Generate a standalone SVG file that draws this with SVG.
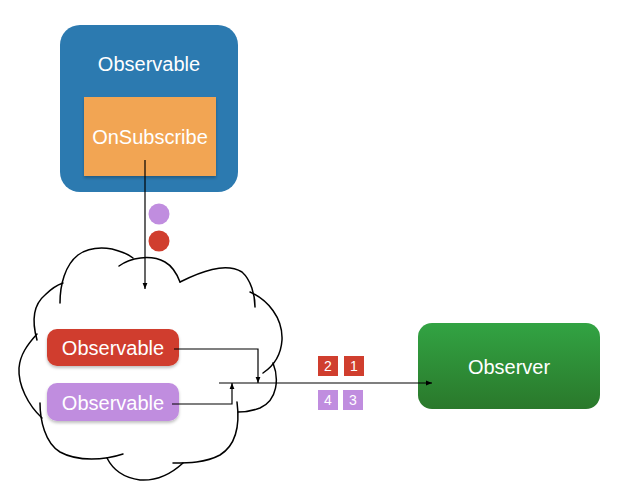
<svg xmlns="http://www.w3.org/2000/svg" width="628" height="502" viewBox="0 0 628 502">
<style>
.t{font-family:"Liberation Sans",Arial,sans-serif;fill:#ffffff;text-anchor:middle}
.big{font-size:20px}
.sm{font-size:14px}
.cl{fill:none;stroke:#000;stroke-width:1.5;stroke-linecap:round}
.ln{fill:none;stroke:#000;stroke-width:1.2}
</style>
<defs>
<marker id="ah" viewBox="0 0 10 10" refX="10" refY="5" markerWidth="6" markerHeight="6" orient="auto" markerUnits="userSpaceOnUse">
<path d="M0,1 L10,5 L0,9 z" fill="#000"/>
</marker>
<linearGradient id="gg" x1="0" y1="0" x2="0" y2="1">
<stop offset="0" stop-color="#32a343"/>
<stop offset="1" stop-color="#2a782b"/>
</linearGradient>
<filter id="sh" x="-10%" y="-10%" width="130%" height="140%">
<feDropShadow dx="0" dy="2" stdDeviation="1.5" flood-color="#000" flood-opacity="0.25"/>
</filter>
</defs>
<g id="cloud">
<path class="cl" d="M60,303 C60,285 65,265 78,255 C88,248 100,247 112,249 C120,251 128,254 133,258"/>
<path class="cl" d="M119,266 C130,258 150,254 165,262 C172,266 177,274 180,282"/>
<path class="cl" d="M180,282 C200,272 225,262 242,272 C251,280 255,295 255,307"/>
<path class="cl" d="M250,292 C268,300 283,318 282,340 C281,355 275,365 263,373"/>
<path class="cl" d="M273,363 C279,378 278,400 260,408 C252,411 245,412 238,412"/>
<path class="cl" d="M237,402 C240,425 236,445 220,455 C205,463 188,463 173,463"/>
<path class="cl" d="M183,463 C170,475 155,481 140,480 C125,478 113,470 107,458"/>
<path class="cl" d="M123,454 C105,460 78,462 60,452 C45,443 40,420 40,403"/>
<path class="cl" d="M42,418 C28,405 18,385 19,368 C20,355 27,345 37,334"/>
<path class="cl" d="M37,340 C32,322 33,305 45,295 C50,290 57,285 63,283"/>
</g>
<g id="observable-top">
<rect x="60" y="25" width="178" height="167" rx="20" fill="#2c7ab0"/>
<text class="t big" x="149" y="71">Observable</text>
</g>
<g id="onsubscribe">
<rect x="84" y="97" width="132" height="79" fill="#f2a553" filter="url(#sh)"/>
<text class="t big" x="150" y="144">OnSubscribe</text>
</g>
<g id="dots">
<circle cx="159" cy="214" r="10.5" fill="#c08ddf"/>
<circle cx="159" cy="241" r="10.5" fill="#d03e2e"/>
</g>
<g id="observable-red">
<rect x="47" y="329" width="132" height="37" rx="10" fill="#d03e2e" filter="url(#sh)"/>
<text class="t big" x="113" y="355">Observable</text>
</g>
<g id="observable-purple">
<rect x="47" y="383" width="132" height="38" rx="10" fill="#c08ddf" filter="url(#sh)"/>
<text class="t big" x="113" y="410">Observable</text>
</g>
<g id="observer">
<rect x="418" y="323" width="182" height="86" rx="14" fill="url(#gg)"/>
<text class="t big" x="509" y="374">Observer</text>
</g>
<g id="items">
<rect x="318" y="356" width="20" height="20" fill="#d03e2e"/>
<text class="t sm" x="328" y="371">2</text>
<rect x="344" y="356" width="20" height="20" fill="#d03e2e"/>
<text class="t sm" x="354" y="371">1</text>
<rect x="318" y="390" width="20" height="20" fill="#c08ddf"/>
<text class="t sm" x="328" y="405">4</text>
<rect x="343" y="390" width="20" height="20" fill="#c08ddf"/>
<text class="t sm" x="353" y="405">3</text>
</g>
<g id="connectors">
<path class="ln" d="M145,160 V289" marker-end="url(#ah)"/>
<path class="ln" d="M174,349 H258 V383" marker-end="url(#ah)"/>
<path class="ln" d="M172,404 H232 V383" marker-end="url(#ah)"/>
<path class="ln" d="M219,383 H432" marker-end="url(#ah)"/>
</g>
</svg>
